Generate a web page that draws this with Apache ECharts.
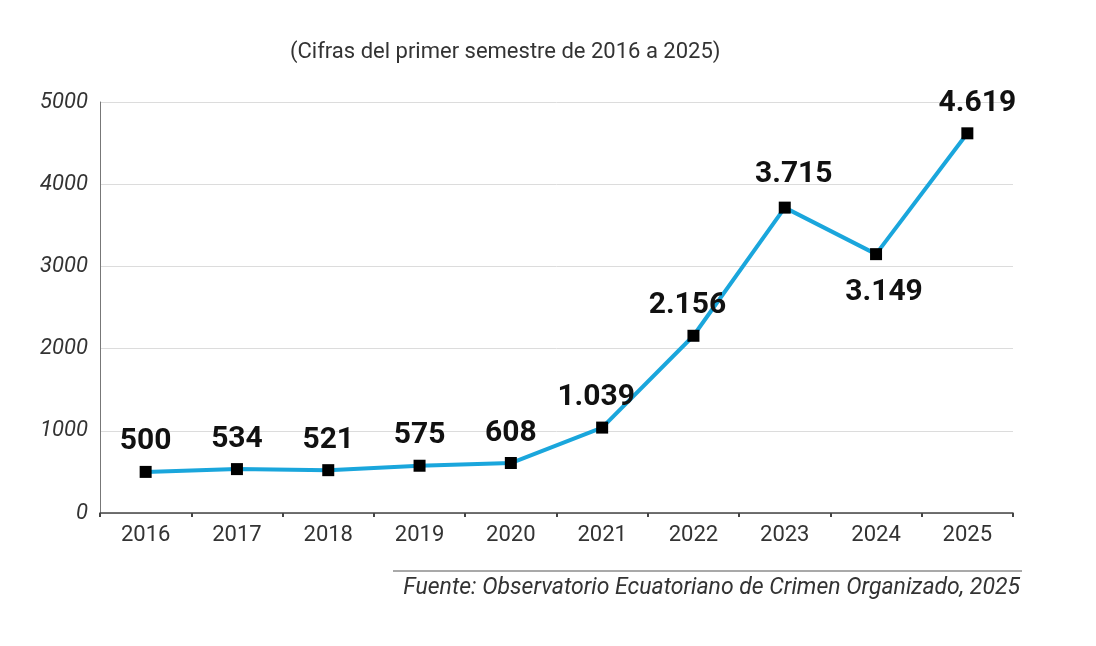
<!DOCTYPE html>
<html>
<head>
<meta charset="utf-8">
<script src="https://cdn.jsdelivr.net/npm/echarts@6/dist/echarts.min.js"></script>
<style>html,body{margin:0;padding:0;background:#fff}#c{width:1096px;height:646px}</style>
</head>
<body>
<div id="c"></div>
<script>
var categories = ['2016','2017','2018','2019','2020','2021','2022','2023','2024','2025'];
var values = [500, 534, 521, 575, 608, 1039, 2156, 3715, 3149, 4619];
var yTicks = [0, 1000, 2000, 3000, 4000, 5000];
var titleText = '(Cifras del primer semestre de 2016 a 2025)';
var sourceText = 'Fuente: Observatorio Ecuatoriano de Crimen Organizado, 2025';

// label placement tweaks (style only)
var labelTweaks = {
  5: {offset: [-6, 0]},
  6: {offset: [-6, 0]},
  7: {offset: [9, -3]},
  8: {position: 'bottom', offset: [8, 8]},
  9: {offset: [10, 0]}
};

function fmt(v) {
  return String(v).replace(/\B(?=(\d{3})+(?!\d))/g, '.');
}

var seriesData = values.map(function (v, i) {
  var d = {value: v};
  if (labelTweaks[i]) d.label = labelTweaks[i];
  return d;
});

var chart = echarts.init(document.getElementById('c'), null, {renderer: 'canvas'});
chart.setOption({
  animation: false,
  backgroundColor: '#fff',
  grid: {left: 100, right: 83, top: 102, bottom: 133, containLabel: false},
  xAxis: {
    type: 'category',
    data: categories,
    boundaryGap: true,
    axisLine: {lineStyle: {color: '#444', width: 1.5}},
    axisTick: {show: true, length: 4, lineStyle: {color: '#444', width: 2}},
    axisLabel: {color: '#333', fontFamily: 'Roboto', fontSize: 22, margin: 11}
  },
  yAxis: {
    type: 'value',
    min: yTicks[0],
    max: yTicks[yTicks.length - 1],
    interval: 1000,
    axisLine: {show: true, lineStyle: {color: '#777', width: 1}},
    axisTick: {show: false},
    splitLine: {lineStyle: {color: '#dcdcdc', width: 1}},
    axisLabel: {
      color: '#333', fontFamily: 'Roboto', fontStyle: 'italic', fontSize: 22, margin: 12,
      formatter: function (v) { return String(v); }
    }
  },
  series: [{
    type: 'line',
    data: seriesData,
    symbol: 'rect',
    symbolSize: 12,
    itemStyle: {color: '#000'},
    lineStyle: {color: '#1aa6dc', width: 4},
    label: {
      show: true,
      position: 'top',
      distance: 9,
      color: '#111',
      fontFamily: 'Roboto',
      fontWeight: 'bold',
      fontSize: 30,
      formatter: function (p) { return fmt(p.value); }
    },
    z: 3
  }],
  graphic: [
    {
      type: 'text', left: 290, top: 41,
      style: {text: titleText, fill: '#333', font: '22px Roboto'}
    },
    {
      type: 'line', shape: {x1: 393, y1: 571, x2: 1022, y2: 571},
      style: {stroke: '#555', lineWidth: 1.2}
    },
    {
      type: 'text', right: 76, top: 577,
      style: {text: sourceText, fill: '#333', font: 'italic 23px Roboto'}
    }
  ]
});
</script>
</body>
</html>
